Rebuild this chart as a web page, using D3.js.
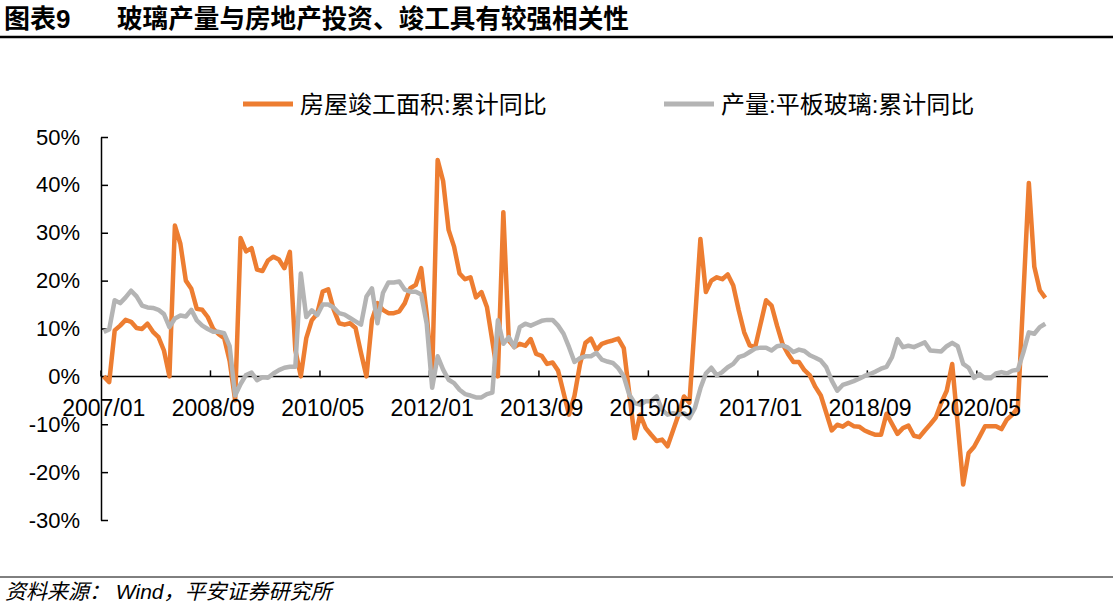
<!DOCTYPE html>
<html>
<head>
<meta charset="utf-8">
<script src="https://cdn.jsdelivr.net/npm/d3@7"></script>
<style>
body { margin: 0; background: #fff; }
text { font-family: "Liberation Sans", "Noto Sans CJK SC", sans-serif; }
</style>
</head>
<body>
<svg id="chart"></svg>
<script>
var width = 1113, height = 604;

// months 2007/01 .. 2021/05
var months = [];
for (var yr = 2007; yr <= 2021; yr++) {
  for (var mo = 1; mo <= 12; mo++) {
    if (yr === 2021 && mo > 5) break;
    months.push(yr + "/" + (mo < 10 ? "0" + mo : mo));
  }
}

// 房屋竣工面积:累计同比 (%), null = no January print
var completion = [
  0, -1.2, 9.6, 10.6, 11.8, 11.4, 10.1, 9.9, 11, 9.3, 8.2, 5.4,
  0, 31.5, 27.7, 20, 18.3, 14.1, 13.9, 12.4, 9.9, 8.8, 8, 3.2,
  -5, 28.9, 26.1, 26.8, 22.3, 22, 24.2, 25, 24.4, 22.6, 26, 5.5,
  0, 8, 11.7, 13.1, 17.7, 18.2, 14, 11.1, 10.8, 11.1, 10.1, 4.9,
  0, 11.8, 15.3, 13.9, 13.2, 13.2, 13.6, 15.3, 18.4, 19.1, 22.6, 13,
  0, 45.2, 40.8, 30.6, 27.1, 21.5, 20.3, 20.7, 16.5, 17.6, 14.5, 7.3,
  0, 34.3, 7.5, 6.1, 6.8, 6.4, 7.8, 4.7, 4.3, 2.6, 2.9, 1.2,
  null, -8, -4, 2.5, 7, 7.9, 5.5, 6.8, 7.2, 7.5, 7.9, 5.9,
  null, -12.9, -8, -10.8, -12.2, -13.5, -13.2, -14.6, -11.3, -8, -4.2, -5.5,
  null, 28.7, 17.6, 20, 20.7, 20.3, 21.3, 19, 13.8, 9.2, 6.5, 6.1,
  null, 15.9, 14.8, 10.6, 6.8, 4.7, 3, 3, 1.3, 0.2, -2.2, -4,
  null, -11.3, -10.1, -10.5, -9.7, -10.4, -10.5, -11.3, -11.8, -12.2, -12.2, -7.8,
  null, -12, -10.8, -10.3, -12.4, -12.7, -11.3, -10, -8.6, -5.5, -3, 2.6,
  null, -22.6, -16, -14.7, -12.6, -10.4, -10.4, -10.4, -11, -9, -8, -6.5,
  null, 40.4, 22.9, 18, 16.4
];

// 产量:平板玻璃:累计同比 (%)
var glass = [
  9.3, 9.8, 15.9, 15.3, 16.5, 17.9, 16.7, 14.8, 14.4, 14.3, 13.9, 13,
  10.3, 12.1, 12.7, 12.5, 13.9, 11.7, 10.6, 9.9, 9.3, 9.3, 9, 6.3,
  -4, -1.6, 0.3, 0.8, -0.8, -0.2, -0.3, 0.6, 1.3, 1.8, 2, 2,
  21.5, 12.4, 13.8, 12.8, 15, 15, 14.4, 13.2, 12.9, 12.2, 11.5, 10.8,
  16.7, 18.4, 11.1, 17.4, 19.6, 19.6, 19.8, 18.1, 17.7, 17.7, 17.1, 11,
  -2.4, 4.2, 1.4, -0.7, -1.4, -2.8, -3.7, -4, -4.4, -4.4, -3.7, -3.4,
  11.7, 6.8, 8.2, 6.1, 10.3, 11, 10.6, 11.1, 11.6, 11.8, 11.8, 10.6,
  8.9, 6.1, 3, 3.8, 4.2, 4.2, 4.9, 3.5, 3.1, 2.8, 1.7, 0,
  -3.8, -5.6, -5.9, -5.2, -5.2, -4.2, -7, -8, -7.7, -8, -7.7, -8.7,
  -6.6, -2.5, 0.6, 1.8, 0.2, 0.9, 1.9, 2.6, 4, 4.4, 5.1, 5.8,
  6, 6, 5.4, 6.3, 6.5, 6, 5.1, 5.6, 5.3, 4.4, 3.9, 3.3,
  1.9, -0.9, -3, -1.8, -1.4, -1, -0.5, 0.1, 0.5, 1, 1.6, 2,
  4, 7.8, 6.1, 6.4, 6.1, 6.6, 7.1, 5.4, 5.3, 5.2, 6.3, 7,
  6.3, 2.6, 1.8, -0.3, 0.5, -0.4, -0.4, 0.6, 0.9, 0.6, 1.2, 1.4,
  5, 9.2, 8.9, 10.3, 11
];

var xTickLabels = ["2007/01", "2008/09", "2010/05", "2012/01", "2013/09", "2015/05", "2017/01", "2018/09", "2020/05"];
var yTicks = [-30, -20, -10, 0, 10, 20, 30, 40, 50];
var seriesNames = ["房屋竣工面积:累计同比", "产量:平板玻璃:累计同比"];
var colours = ["#ED7D31", "#B4B4B4"];

var svg = d3.select("#chart").attr("width", width).attr("height", height);
svg.append("rect").attr("width", width).attr("height", height).attr("fill", "#fff");

// title
svg.append("text").attr("x", 4).attr("y", 28)
  .attr("font-size", "26px").attr("font-weight", "bold").text("图表9");
svg.append("text").attr("x", 117).attr("y", 28)
  .attr("font-size", "25.6px").attr("font-weight", "bold").text("玻璃产量与房地产投资、竣工具有较强相关性");
svg.append("line").attr("x1", 0).attr("x2", width).attr("y1", 37).attr("y2", 37)
  .attr("stroke", "#000").attr("stroke-width", 2.5);

// scales
var x = d3.scaleBand().domain(months).range([101, 1048]);
var bw = x.bandwidth();
var y = d3.scaleLinear().domain([-30, 50]).range([520, 137]);

// y axis
var yAxis = svg.append("g").attr("transform", "translate(101,0)")
  .call(d3.axisLeft(y).tickValues(yTicks).tickSizeInner(-7).tickSizeOuter(0).tickPadding(21)
    .tickFormat(function(d) { return d + "%"; }));
yAxis.select(".domain").attr("stroke", "#000").attr("stroke-width", 1.5);
yAxis.selectAll(".tick line").attr("stroke", "#000").attr("stroke-width", 1.5);
yAxis.selectAll(".tick text").attr("font-size", "22px").attr("fill", "#000")
  .attr("font-family", "'Liberation Sans', Arial, sans-serif");

// x axis on zero line
var y0 = y(0);
svg.append("line").attr("x1", 101).attr("x2", 1048).attr("y1", y0).attr("y2", y0)
  .attr("stroke", "#000").attr("stroke-width", 1.5);
svg.selectAll(".xtick").data(xTickLabels).enter().append("line")
  .attr("x1", function(d) { return x(d); }).attr("x2", function(d) { return x(d); })
  .attr("y1", y0).attr("y2", y0 - 6)
  .attr("stroke", "#000").attr("stroke-width", 1.5);

// lines
var line = d3.line()
  .x(function(d) { return x(d.m) + bw / 2; })
  .y(function(d) { return y(d.v); });

[completion, glass].forEach(function(vals, k) {
  var pts = months.map(function(m, i) { return {m: m, v: vals[i]}; })
    .filter(function(d) { return d.v != null; });
  svg.append("path").datum(pts)
    .attr("d", line)
    .attr("fill", "none")
    .attr("stroke", colours[k])
    .attr("stroke-width", 4.5)
    .attr("stroke-linejoin", "round");
});

// x labels (drawn after lines, as in the source)
svg.selectAll(".xlab").data(xTickLabels).enter().append("text")
  .attr("x", function(d) { return x(d) + bw / 2; })
  .attr("y", 416)
  .attr("text-anchor", "middle")
  .attr("font-size", "23px")
  .attr("font-family", "'Liberation Sans', Arial, sans-serif")
  .text(function(d) { return d; });

// legend
var legendX = [243, 664];
seriesNames.forEach(function(name, k) {
  svg.append("line").attr("x1", legendX[k]).attr("x2", legendX[k] + 50)
    .attr("y1", 104).attr("y2", 104)
    .attr("stroke", colours[k]).attr("stroke-width", 5);
  svg.append("text").attr("x", legendX[k] + 57).attr("y", 113)
    .attr("font-size", "24px").text(name);
});

// footer
svg.append("line").attr("x1", 0).attr("x2", width).attr("y1", 577).attr("y2", 577)
  .attr("stroke", "#000").attr("stroke-width", 1);
svg.append("text").attr("x", 5).attr("y", 599)
  .attr("font-size", "21px").attr("font-style", "italic")
  .text("资料来源： Wind，平安证券研究所");
</script>
</body>
</html>
